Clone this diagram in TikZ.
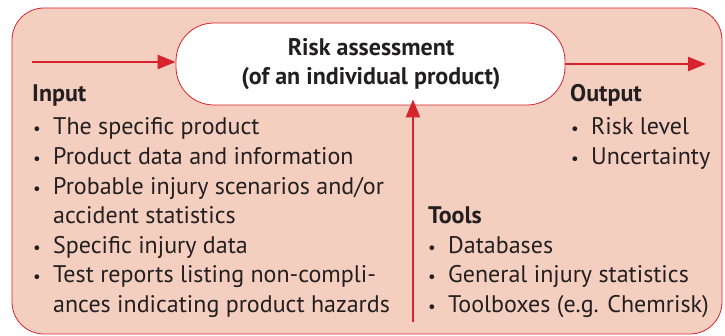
\documentclass[tikz,border=0pt]{standalone}
\usepackage{fontspec}
\setmainfont{PT Sans}
\usetikzlibrary{arrows.meta}
\definecolor{boxred}{HTML}{D7242C}
\definecolor{boxfill}{HTML}{F4CEBF}
\definecolor{txt}{HTML}{231F20}
\tikzset{
  lbl/.style={anchor=base west, inner sep=0pt, font=\fontsize{24}{28}\selectfont, text=txt},
  head/.style={lbl, font=\fontsize{24}{28}\selectfont\bfseries},
  bul/.style={anchor=base, inner sep=0pt, font=\fontsize{17}{28}\selectfont, text=txt},
  ttl/.style={anchor=base, inner sep=0pt, font=\fontsize{24}{28}\selectfont\bfseries, text=txt},
  conn/.style={draw=boxred, line width=2.4pt, -{Triangle[length=18pt,width=14pt]}}
}
\begin{document}
\begin{tikzpicture}[x=1pt,y=-1pt]
\useasboundingbox (0,0) rectangle (725,336);
\draw[boxred, fill=boxfill, line width=0.8pt, rounded corners=32pt] (12,8) rectangle (722,334);
\node[draw=boxred, fill=white, line width=0.8pt, rounded corners=38pt, minimum width=389pt, minimum height=82pt, inner sep=0pt] (ra) at (370.5,64) {};
\node[ttl] (t1) at (371,55.5) {Risk assessment};
\node[ttl] (t2) at (371,84.5) {(of an individual product)};
\coordinate (inL) at (32,62);
\coordinate (outR) at (706,64);
\coordinate (toolB) at (413,322);
\draw[conn] (inL) -- (ra.west |- inL);
\draw[conn] (ra.east |- outR) -- (outR);
\draw[conn] (toolB) -- ([yshift=6pt]ra.south -| toolB);
% Input
\node[head] (inh) at (32,102) {Input};
\node[bul] (inb1) at (37,135) {•};
\node[lbl] (in1) at (53,135) {The specific product};
\node[bul] (inb2) at (37,164.6) {•};
\node[lbl] (in2) at (53,164.6) {Product data and information};
\node[bul] (inb3) at (37,194.2) {•};
\node[lbl] (in3) at (53,194.2) {Probable injury scenarios and/or};
\node[lbl] (in4) at (53,223.8) {accident statistics};
\node[bul] (inb5) at (37,253.4) {•};
\node[lbl] (in5) at (53,253.4) {Specific injury data};
\node[bul] (inb6) at (37,283) {•};
\node[lbl] (in6) at (53,283) {Test reports listing non-compli-};
\node[lbl] (in7) at (53,312.2) {ances indicating product hazards};
% Output
\node[head] (outh) at (570,102) {Output};
\node[bul] (ob1) at (575,135) {•};
\node[lbl] (o1) at (591,135) {Risk level};
\node[bul] (ob2) at (575,164.6) {•};
\node[lbl] (o2) at (591,164.6) {Uncertainty};
% Tools
\node[head] (th) at (428,223.8) {Tools};
\node[bul] (tb1) at (432,253.4) {•};
\node[lbl] (tl1) at (448,253.4) {Databases};
\node[bul] (tb2) at (432,283) {•};
\node[lbl] (tl2) at (448,283) {General injury statistics};
\node[bul] (tb3) at (432,312.2) {•};
\node[lbl] (tl3) at (448,312.2) {Toolboxes (e.g. Chemrisk)};
\end{tikzpicture}
\end{document}
